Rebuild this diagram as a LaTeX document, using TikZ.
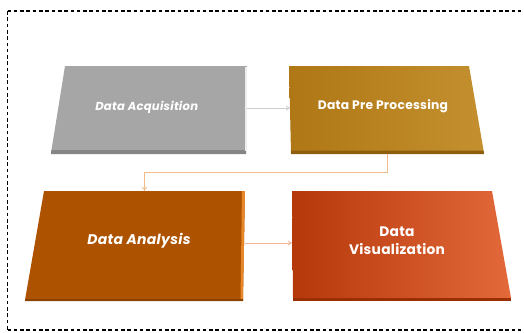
\documentclass[tikz,border=0pt]{standalone}
\usepackage{fontspec}
\setmainfont{Poppins}[LetterSpace=2]
\usetikzlibrary{arrows.meta}
\definecolor{grayA}{HTML}{A6A6A6}
\definecolor{grayB}{HTML}{858585}
\definecolor{goldA}{HTML}{AF7715}
\definecolor{goldB}{HTML}{C4902F}
\definecolor{goldC}{HTML}{8E5E0C}
\definecolor{brownA}{HTML}{AD5300}
\definecolor{brownB}{HTML}{E8862A}
\definecolor{brownC}{HTML}{8A4200}
\definecolor{redA}{HTML}{B5380A}
\definecolor{redB}{HTML}{E3693A}
\definecolor{redC}{HTML}{9A2E05}
\tikzset{
  anchorbox/.style={draw=none, inner sep=0pt, outer sep=0pt},
  lbl/.style={text=white, align=center, inner sep=0pt},
  conn/.style={line width=0.8pt, -{To[length=4pt,width=5pt]}},
  frame/.style={dash pattern=on 3.6pt off 2.7pt},
}
\begin{document}
\begin{tikzpicture}[x=1pt,y=-1pt]
\path[use as bounding box] (0,0) rectangle (524,332);
\begin{scope}
\clip (0,0) rectangle (524,332);
\draw[frame, line width=2pt] (7.5,11) -- (540,11);
\draw[frame, line width=2pt] (7.5,330) -- (540,330);
\draw[frame, line width=1pt] (7.5,11) -- (7.5,330);
\end{scope}
% shape 1: Data Acquisition
\fill[grayA] (65,66) -- (247,66) -- (246,153) -- (51,153) -- cycle;
\fill[grayB] (51.4,150) -- (246,150) -- (246,154) -- (51,154) -- cycle;
\fill[white!80!grayA] (245,67) -- (247,67) -- (247,151) -- (245,151) -- cycle;
% shape 2: Data Pre Processing
\shade[left color=goldA, right color=goldB] (289,66) -- (469,66) -- (484,153) -- (291,153) -- cycle;
\fill[goldC] (291,150.5) -- (483.5,150.5) -- (484,154) -- (291,154) -- cycle;
% shape 3: Data Analysis
\fill[brownA] (44,191) -- (245,191) -- (243,300) -- (25,300) -- cycle;
\fill[brownB] (242,191) -- (245,191) -- (243,300) -- (240.5,300) -- cycle;
\fill[brownC] (25.2,299) -- (243,299) -- (243,301) -- (25,301) -- cycle;
% shape 4: Data Visualization
\shade[left color=redA, right color=redB] (292,191) -- (492,191) -- (511,298) -- (293,298) -- cycle;
\fill[redC] (293,297.5) -- (511,297.5) -- (511,301) -- (293,301) -- cycle;
% anchor nodes
\node[anchorbox, minimum width=196pt, minimum height=88pt] (acq) at (149,110) {};
\node[anchorbox, minimum width=195pt, minimum height=88pt] (pre) at (387.5,110) {};
\node[anchorbox, minimum width=201pt, minimum height=110pt] (ana) at (144.5,246) {};
\node[anchorbox, minimum width=219pt, minimum height=110pt] (vis) at (401.5,246) {};
% labels
\node[lbl, font=\bfseries\itshape\fontsize{11.6}{13}\selectfont] (t1) at (146.7,107.5) {Data Acquisition};
\node[lbl, font=\bfseries\fontsize{12.3}{13}\selectfont] (t2) at (383,106.5) {Data Pre Processing};
\node[lbl, font=\bfseries\itshape\fontsize{14}{15}\selectfont] (t3) at (139,240.5) {Data Analysis};
\node[lbl, font=\bfseries\fontsize{13.8}{17.6}\selectfont] (t4) at (397,240.5) {Data\\Visualization};
% connectors
\draw[conn, draw=gray!40] (acq.east |- 0,108) -- (pre.west |- 0,108);
\draw[conn, draw=brownB!55] (pre.south) -- ++(0,18) -| (ana.north);
\draw[conn, draw=redB!50] (ana.east |- 0,243) -- (vis.west |- 0,243);
\end{tikzpicture}
\end{document}
